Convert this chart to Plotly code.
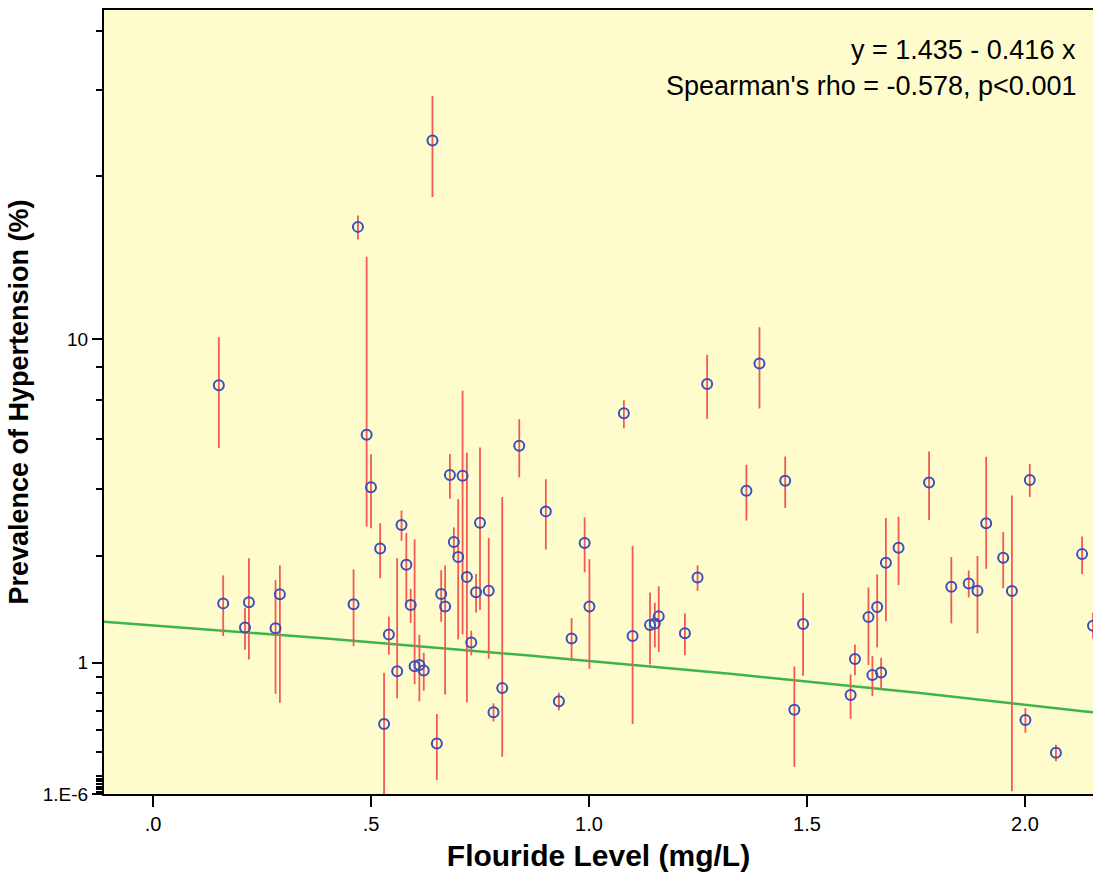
import numpy as np
import plotly.graph_objects as go

# ---- data ----
fluoride = [0.151, 0.161, 0.211, 0.220, 0.281, 0.291, 0.470, 0.490, 0.500, 0.521,
            0.460, 0.541, 0.560, 0.530, 0.570, 0.581, 0.591, 0.600, 0.611, 0.621,
            0.651, 0.641, 0.661, 0.670, 0.681, 0.690, 0.700, 0.710, 0.720, 0.730,
            0.741, 0.750, 0.770, 0.781, 0.801, 0.840, 0.901, 0.931, 0.960, 0.990,
            1.001, 1.080, 1.100, 1.140, 1.151, 1.160, 1.220, 1.249, 1.271, 1.361,
            1.391, 1.450, 1.471, 1.491, 1.600, 1.610, 1.641, 1.650, 1.661, 1.670,
            1.681, 1.710, 1.780, 1.831, 1.871, 1.891, 1.911, 1.950, 1.970, 2.011,
            2.001, 2.071, 2.131, 2.156]

prevalence = [7.64, 1.733, 1.408, 1.748, 1.396, 1.866, 18.91, 5.65, 4.04, 2.65,
              1.722, 1.32, 0.911, 0.447, 3.13, 2.35, 1.709, 0.961, 0.974, 0.919,
              0.305, 30.4, 1.871, 1.69, 4.38, 2.78, 2.49, 4.36, 2.14, 1.224,
              1.90, 3.18, 1.92, 0.54, 0.748, 5.28, 3.44, 0.632, 1.272, 2.76,
              1.69, 6.45, 1.30, 1.438, 1.459, 1.552, 1.336, 2.134, 7.69, 3.95,
              8.69, 4.22, 0.559, 1.45, 0.685, 1.037, 1.542, 0.872, 1.680, 0.899,
              2.386, 2.664, 4.17, 1.982, 2.036, 1.92, 3.17, 2.476, 1.916, 4.24,
              0.477, 0.243, 2.544, 1.43]

ci_upper = [10.13, 2.168, 1.670, 2.466, 2.09, 2.34, 20.15, 16.01, 5.00, 3.17,
            2.27, 1.55, 2.47, 0.896, 3.46, 2.96, 1.95, 2.83, 1.316, 1.106,
            0.524, 38.7, 2.256, 2.34, 5.01, 3.08, 3.74, 7.39, 5.05, 1.366,
            2.19, 5.22, 2.86, 0.613, 3.79, 6.22, 4.26, 0.706, 1.528, 3.30,
            2.45, 6.98, 2.70, 1.896, 1.742, 1.99, 1.592, 2.34, 9.14, 4.68,
            10.73, 4.93, 0.96, 1.886, 0.879, 1.201, 1.972, 1.070, 2.184, 1.051,
            3.286, 3.316, 5.09, 2.49, 2.252, 2.51, 4.92, 2.98, 3.83, 4.70,
            0.573, 0.296, 2.89, 1.6]

ci_lower = [5.20, 1.300, 1.140, 1.034, 0.696, 0.618, 17.63, 3.10, 3.06, 2.12,
            1.18, 1.084, 0.656, 0.0, 2.80, 1.716, 1.464, 0.784, 0.63, 0.724,
            0.077, 22.3, 1.48, 0.69, 3.75, 2.49, 1.26, 1.32, 0.622, 1.078,
            1.606, 1.638, 1.04, 0.466, 0.217, 4.31, 2.63, 0.556, 1.016, 2.22,
            0.936, 5.88, 0.448, 0.981, 1.166, 1.117, 1.078, 1.92, 6.23, 3.23,
            6.64, 3.52, 0.154, 0.866, 0.487, 0.870, 0.974, 0.678, 1.166, 0.742,
            1.486, 2.01, 3.24, 1.459, 1.82, 1.333, 2.28, 1.962, 0.015, 3.79,
            0.381, 0.188, 2.19, 1.27]

fit_intercept = 1.435
fit_slope = -0.416

x_tick_vals = [0.0, 0.5, 1.0, 1.5, 2.0]
x_tick_text = [".0", ".5", "1.0", "1.5", "2.0"]
y_tick_vals = [1e-6, 1, 10]
y_tick_text = ["1.E-6", "1", "10"]
y_minor_vals = [0.001, 0.0025, 0.004, 0.0055, 0.007, 0.0085,
                0.01, 0.025, 0.04, 0.055, 0.07, 0.085,
                0.1, 0.25, 0.4, 0.55, 0.7, 0.85,
                2.5, 4, 5.5, 7, 8.5, 25, 40, 55]
x_min, x_max = -0.1124, 2.156
y_max = 61.5

# "safe log" scale: log10(value + 1)
def sl(v):
    return np.asarray(v, dtype=float) + 1.0

prev = np.array(prevalence)
up = np.array(ci_upper)
lo = np.array(ci_lower)

fit_x = np.linspace(x_min, x_max, 80)
fit_y = fit_intercept + fit_slope * fit_x

FONT = "Liberation Sans, Arial, sans-serif"

fig = go.Figure()
fig.add_trace(go.Scatter(
    x=fit_x, y=sl(fit_y), mode="lines",
    line=dict(color="#3DB54A", width=2.5), hoverinfo="skip", showlegend=False))
fig.add_trace(go.Scatter(
    x=fluoride, y=sl(prev), mode="markers",
    marker=dict(symbol="circle-open", size=10, color="#3B4FB8", line=dict(width=2, color="#3B4FB8")),
    error_y=dict(type="data", symmetric=False, array=(up - prev), arrayminus=(prev - lo),
                 color="#F25A52", thickness=1.8, width=0),
    showlegend=False))

fig.add_annotation(x=0.985, y=0.949, xref="paper", yref="paper", xanchor="right", yanchor="middle",
                   text="y = 1.435 - 0.416 x", showarrow=False, font=dict(family=FONT, size=27, color="black"))
fig.add_annotation(x=0.985, y=0.903, xref="paper", yref="paper", xanchor="right", yanchor="middle",
                   text="Spearman's rho = -0.578, p<0.001", showarrow=False, font=dict(family=FONT, size=27, color="black"))

fig.update_layout(
    width=1093, height=880,
    margin=dict(l=104, r=0, t=10, b=86),
    paper_bgcolor="white", plot_bgcolor="#FEFCCD",
    font=dict(family=FONT, color="black"),
    xaxis=dict(range=[x_min, x_max], tickmode="array", tickvals=x_tick_vals, ticktext=x_tick_text,
               ticks="outside", ticklen=11, tickwidth=2, tickcolor="black",
               showline=True, linewidth=2, linecolor="black", mirror=True,
               showgrid=False, zeroline=False, tickfont=dict(size=20),
               title=dict(text="<b>Flouride Level (mg/L)</b>", font=dict(size=30), standoff=11)),
    yaxis=dict(type="log", range=[np.log10(1 + 1e-6), np.log10(y_max + 1)],
               tickmode="array", tickvals=sl(y_tick_vals), ticktext=y_tick_text,
               ticks="outside", ticklen=10, tickwidth=2, tickcolor="black",
               minor=dict(tickmode="array", tickvals=sl(y_minor_vals), ticks="outside",
                          ticklen=6, tickwidth=2, tickcolor="black", showgrid=False),
               showline=True, linewidth=2, linecolor="black", mirror=False,
               showgrid=False, zeroline=False, tickfont=dict(size=19),
               title=dict(text="<b>Prevalence of Hypertension (%)</b>", font=dict(size=27), standoff=6)),
)

fig.write_html("out.html", config={"displayModeBar": False},
               post_script="document.body.style.margin='0';document.body.style.overflow='hidden';")
